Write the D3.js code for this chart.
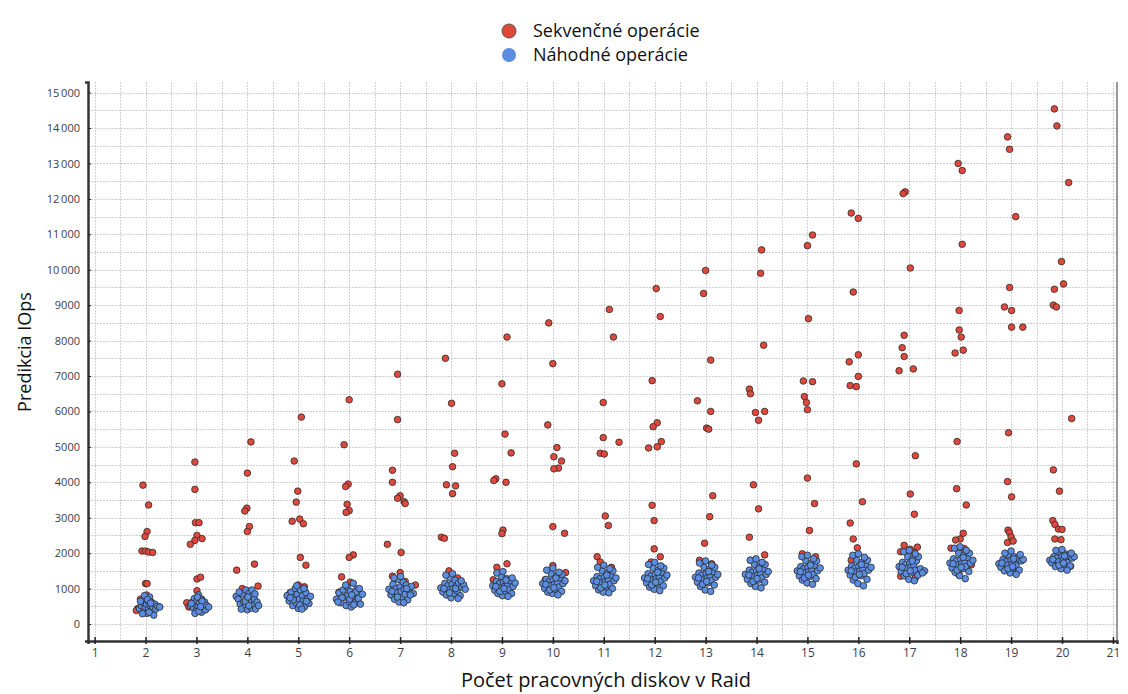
<!DOCTYPE html>
<html>
<head>
<meta charset="utf-8">
<script src="https://cdn.jsdelivr.net/npm/d3@7"></script>
<style>
  body { margin: 0; background: #fff; }
  svg { display: block; font-family: "Open Sans", "Noto Sans", sans-serif; }
</style>
</head>
<body>
<div id="chart"></div>
<script>
// series names (legend order)
const seriesNames = ["Sekvenčné operácie", "Náhodné operácie"];

// x ticks and y ticks
const xTicks = d3.range(1, 22);
const yTicks = d3.range(0, 15001, 1000);

// Sekvenčné operácie: [disks (with jitter), IOps]
const sequential = [
  [1.95,3920],[2.06,3360],[2.03,2610],[1.99,2470],[1.93,2060],[2.0,2060],[2.06,2030],[2.14,2020],[2.0,1140],[2.03,1140],[2.02,820],[1.85,440],[1.82,380],[1.9,700],[2.1,600],
  [2.97,4570],[2.97,3800],[2.98,2860],[3.05,2860],[3.01,2500],[2.97,2360],[3.11,2410],[2.88,2250],[3.01,1270],[3.08,1320],[3.01,940],[2.81,600],[2.85,480],[3.1,700],
  [4.07,5140],[4.0,4260],[3.99,3270],[3.95,3190],[4.04,2750],[4.0,2610],[4.14,1690],[3.79,1520],[4.21,1070],[3.82,780],[4.05,900],[4.15,650],[3.9,1000],
  [5.06,5840],[4.92,4600],[4.99,3750],[4.96,3440],[4.88,2900],[5.03,2960],[5.1,2830],[5.04,1880],[5.15,1660],[5.0,1100],[4.84,880],[4.9,750],[5.12,1050],
  [6.0,6330],[5.9,5060],[5.98,3950],[5.93,3880],[5.96,3380],[6.0,3200],[5.94,3150],[6.08,1950],[6.0,1880],[5.85,1330],[6.02,1180],[5.8,900],[6.1,700],
  [6.95,7050],[6.95,5770],[6.85,4340],[6.85,4000],[7.0,3620],[6.95,3550],[7.08,3450],[7.1,3400],[6.75,2250],[7.02,2020],[7.0,1450],[6.85,1350],[7.1,1200],[7.3,1100],
  [7.89,7500],[8.01,6230],[8.07,4820],[8.03,4440],[7.91,3930],[8.09,3900],[8.03,3680],[7.81,2450],[7.87,2420],[7.96,1500],[8.13,1300],[7.9,1100],[8.05,850],
  [9.1,8100],[9.0,6780],[9.06,5360],[9.18,4830],[8.88,4100],[8.84,4050],[9.08,4000],[9.02,2650],[9.0,2550],[9.1,1700],[8.9,1600],[8.83,1250],[9.15,1000],
  [9.92,8500],[10.0,7350],[9.9,5620],[10.08,4980],[10.02,4720],[10.17,4600],[10.11,4400],[10.02,4380],[10.0,2750],[10.23,2560],[10.0,1650],[10.25,1450],[9.85,1250],
  [11.11,8880],[11.19,8100],[10.99,6250],[10.99,5260],[11.3,5130],[10.93,4820],[11.01,4800],[11.03,3050],[11.09,2780],[10.87,1900],[10.93,1750],[11.15,1600],[11.05,1350],
  [12.03,9470],[12.11,8680],[11.95,6870],[12.05,5680],[11.97,5570],[12.13,5150],[12.05,5000],[11.88,4970],[11.95,3350],[11.99,2920],[11.99,2120],[12.11,1900],[11.93,1750],
  [13.0,9980],[12.96,9330],[13.1,7450],[12.84,6300],[13.1,6000],[13.02,5530],[13.06,5500],[13.14,3620],[13.08,3030],[12.98,2280],[12.88,1800],[13.12,1700],
  [14.1,10560],[14.08,9900],[14.14,7870],[13.86,6630],[13.88,6500],[14.16,6000],[13.98,5970],[14.04,5750],[13.94,3930],[14.04,3250],[13.86,2450],[14.16,1950],[13.88,1800],
  [15.1,10980],[15.0,10680],[15.02,8620],[14.92,6860],[15.1,6840],[14.94,6420],[14.98,6250],[15.0,6050],[15.0,4120],[15.14,3400],[15.04,2640],[14.9,1980],[15.16,1900],
  [15.86,11600],[16.0,11450],[15.9,9370],[16.0,7600],[15.82,7400],[16.0,6990],[15.84,6730],[15.96,6700],[15.96,4520],[16.08,3450],[15.84,2850],[15.9,2400],[15.98,2150],[15.86,1800],
  [16.92,12200],[16.88,12150],[17.02,10050],[16.9,8150],[16.86,7800],[16.9,7550],[17.08,7200],[16.8,7150],[17.12,4750],[17.02,3670],[17.1,3100],[16.9,2220],[17.16,2170],[16.83,2040],[17.02,2110],[17.1,2010],[16.83,1350],[17.12,1300],
  [17.96,13000],[18.04,12800],[18.04,10720],[17.98,8850],[17.98,8300],[18.02,8100],[18.06,7730],[17.9,7650],[17.94,5150],[17.93,3820],[18.12,3360],[18.06,2560],[18.0,2400],[17.91,2370],[17.82,2140],[18.08,2130],[18.22,1670],[17.97,1400],
  [18.93,13750],[18.97,13400],[19.09,11500],[18.97,9500],[18.87,8950],[19.01,8850],[19.01,8380],[19.23,8380],[18.95,5400],[18.93,4020],[19.01,3590],[18.94,2650],[18.97,2580],[19.0,2460],[18.93,2300],[19.04,2340],[18.81,1600],[19.04,1550],
  [19.85,14540],[19.9,14060],[20.13,12460],[19.99,10230],[20.03,9600],[19.85,9450],[19.83,9000],[19.89,8950],[20.19,5800],[19.83,4350],[19.95,3750],[19.82,2920],[19.86,2810],[19.93,2680],[20.0,2670],[19.86,2400],[19.98,2380],[20.17,1630]
];

// Náhodné operácie: [disks (with jitter), IOps]
const random = [
  [1.88,430],[1.92,520],[1.95,610],[1.97,380],[1.99,700],[2.0,470],[2.02,560],[2.03,300],[2.05,650],[2.06,420],[2.08,760],[2.09,520],[2.11,350],[2.12,610],[2.14,480],[2.16,250],[2.18,560],[2.2,420],[2.24,500],[2.28,480],[1.94,290],[1.98,800],[2.04,690],[2.1,590],[1.9,640],[2.07,330],
  [2.88,520],[2.92,620],[2.94,450],[2.96,720],[2.98,560],[3.0,380],[3.01,660],[3.03,500],[3.04,820],[3.06,600],[3.07,420],[3.09,700],[3.1,330],[3.12,540],[3.14,470],[3.16,620],[3.18,400],[3.2,520],[3.24,480],[2.97,300],[3.02,760],[3.05,360],[3.11,640],[2.9,580],[3.08,490],
  [3.78,780],[3.82,700],[3.86,560],[3.9,850],[3.93,620],[3.95,480],[3.97,960],[3.99,720],[4.0,400],[4.02,580],[4.04,880],[4.06,660],[4.08,450],[4.1,780],[4.12,540],[4.14,700],[4.16,420],[4.19,620],[4.22,520],[3.88,420],[3.96,640],[4.03,520],[4.09,960],[3.84,900],[4.15,850],[4.01,760],
  [4.78,800],[4.82,650],[4.86,900],[4.89,520],[4.92,760],[4.94,1000],[4.96,600],[4.98,840],[5.0,440],[5.02,700],[5.04,960],[5.06,560],[5.08,800],[5.1,650],[5.12,480],[5.15,880],[5.18,720],[5.21,580],[5.24,780],[4.9,680],[4.97,1080],[5.03,540],[5.11,1000],[4.84,740],[5.07,420],[5.16,640],
  [5.75,700],[5.8,880],[5.84,600],[5.88,960],[5.91,760],[5.94,520],[5.96,1050],[5.98,820],[6.0,640],[6.02,920],[6.04,480],[6.06,760],[6.08,1150],[6.1,860],[6.12,600],[6.15,980],[6.18,720],[6.22,560],[6.26,840],[5.86,740],[5.93,1100],[6.01,700],[6.09,540],[6.13,900],[5.78,620],[6.2,1000],[6.05,820],
  [6.78,980],[6.82,820],[6.86,1120],[6.89,700],[6.92,1000],[6.94,880],[6.96,1260],[6.98,620],[7.0,1050],[7.02,920],[7.04,760],[7.06,1180],[7.08,980],[7.1,840],[7.12,1100],[7.15,680],[7.18,940],[7.22,1060],[7.26,860],[6.88,1300],[6.95,760],[7.01,1340],[7.07,600],[7.13,1000],[6.84,920],[7.2,820],
  [7.8,1020],[7.84,900],[7.88,1150],[7.91,820],[7.94,1080],[7.96,960],[7.98,1300],[8.0,740],[8.02,1120],[8.04,1000],[8.06,860],[8.08,1240],[8.1,1060],[8.12,940],[8.15,1160],[8.18,800],[8.21,1040],[8.25,1100],[8.28,980],[7.9,1380],[7.97,880],[8.03,1420],[8.09,1000],[8.14,720],[7.86,1000],[8.2,1220],
  [8.82,1080],[8.86,950],[8.89,1200],[8.92,860],[8.95,1140],[8.97,1020],[8.99,1340],[9.01,800],[9.03,1180],[9.05,1060],[9.07,920],[9.09,1280],[9.11,1100],[9.13,980],[9.16,1220],[9.19,860],[9.22,1060],[9.26,1160],[8.9,1440],[8.96,920],[9.02,1480],[9.08,1240],[9.12,780],[8.88,1060],[9.2,1300],[9.04,1000],
  [9.8,1140],[9.84,1000],[9.87,1260],[9.9,900],[9.93,1200],[9.95,1080],[9.97,1420],[9.99,860],[10.01,1240],[10.03,1120],[10.05,980],[10.07,1360],[10.09,1160],[10.11,1040],[10.14,1300],[10.17,920],[10.2,1140],[10.24,1220],[9.88,1520],[9.94,960],[10.0,1580],[10.06,1300],[10.1,820],[9.86,1120],[10.18,1400],[10.02,1020],[10.12,1460],
  [10.8,1220],[10.84,1080],[10.87,1340],[10.9,960],[10.93,1280],[10.95,1160],[10.97,1500],[10.99,900],[11.01,1320],[11.03,1200],[11.05,1060],[11.07,1440],[11.09,1240],[11.11,1120],[11.14,1380],[11.17,1000],[11.2,1220],[11.24,1300],[10.88,1600],[10.94,1020],[11.0,1660],[11.06,1380],[11.1,880],[10.86,1200],[11.18,1500],[11.02,1100],[11.12,1560],
  [11.8,1300],[11.84,1160],[11.87,1420],[11.9,1040],[11.93,1360],[11.95,1240],[11.97,1580],[11.99,980],[12.01,1400],[12.03,1280],[12.05,1140],[12.07,1520],[12.09,1320],[12.11,1200],[12.14,1460],[12.17,1080],[12.2,1300],[12.24,1380],[11.88,1680],[11.94,1100],[12.0,1740],[12.06,1460],[12.1,940],[11.86,1280],[12.18,1580],[12.02,1180],[12.12,1640],
  [12.8,1320],[12.84,1180],[12.87,1440],[12.9,1060],[12.93,1380],[12.95,1260],[12.97,1600],[12.99,960],[13.01,1420],[13.03,1300],[13.05,1160],[13.07,1540],[13.09,1340],[13.11,1220],[13.14,1480],[13.17,1100],[13.2,1320],[13.24,1400],[12.88,1720],[12.94,1120],[13.0,1780],[13.06,1480],[13.1,920],[12.86,1300],[13.18,1600],[13.02,1200],[13.12,1660],
  [13.78,1400],[13.82,1260],[13.86,1520],[13.89,1140],[13.92,1460],[13.94,1340],[13.96,1680],[13.98,1060],[14.0,1500],[14.02,1380],[14.04,1240],[14.06,1620],[14.08,1420],[14.1,1300],[14.13,1560],[14.16,1180],[14.19,1400],[14.23,1480],[13.88,1800],[13.93,1200],[13.99,1840],[14.05,1560],[14.09,1020],[13.85,1380],[14.17,1680],[14.01,1280],[14.11,1740],
  [14.8,1500],[14.84,1360],[14.87,1620],[14.9,1240],[14.93,1560],[14.95,1440],[14.97,1780],[14.99,1160],[15.01,1600],[15.03,1480],[15.05,1340],[15.07,1720],[15.09,1520],[15.11,1400],[15.14,1660],[15.17,1280],[15.2,1500],[15.25,1580],[14.89,1900],[14.94,1300],[15.0,1940],[15.06,1660],[15.1,1120],[14.86,1480],[15.18,1780],[15.02,1380],[15.12,1840],
  [15.8,1520],[15.84,1380],[15.87,1640],[15.9,1240],[15.93,1580],[15.95,1460],[15.97,1800],[15.99,1140],[16.01,1620],[16.03,1500],[16.05,1360],[16.07,1740],[16.09,1540],[16.11,1420],[16.14,1680],[16.17,1260],[16.2,1520],[16.25,1600],[15.89,1940],[15.94,1320],[16.0,1980],[16.06,1680],[16.1,1080],[15.86,1500],[16.18,1800],[16.02,1400],[16.12,1880],
  [16.8,1620],[16.84,1480],[16.87,1740],[16.9,1360],[16.93,1680],[16.95,1560],[16.97,1900],[16.99,1260],[17.01,1720],[17.03,1600],[17.05,1460],[17.07,1840],[17.09,1640],[17.11,1520],[17.14,1780],[17.17,1380],[17.22,1560],[17.3,1500],[16.89,2040],[16.94,1420],[17.0,2080],[17.06,1780],[17.1,1220],[16.86,1600],[17.18,1900],[17.02,1500],[17.12,1980],[17.26,1440],
  [17.8,1720],[17.84,1580],[17.87,1840],[17.9,1460],[17.93,1780],[17.95,1660],[17.97,2000],[17.99,1360],[18.01,1820],[18.03,1700],[18.05,1560],[18.07,1940],[18.09,1740],[18.11,1620],[18.14,1880],[18.17,1480],[18.2,1720],[18.25,1800],[17.89,2140],[17.94,1520],[18.0,2180],[18.06,1880],[18.1,1280],[17.86,1700],[18.18,2000],[18.02,1600],[18.12,2080],
  [18.76,1700],[18.8,1600],[18.84,1820],[18.87,1500],[18.9,1760],[18.93,1660],[18.96,1940],[18.98,1440],[19.0,1800],[19.02,1700],[19.04,1580],[19.06,1900],[19.08,1740],[19.1,1640],[19.13,1860],[19.16,1520],[19.2,1780],[19.24,1820],[18.88,2000],[18.94,1560],[19.0,2060],[19.05,1840],[19.1,1400],[18.82,1720],[19.18,1960],[19.03,1620],
  [19.76,1800],[19.8,1720],[19.84,1900],[19.87,1620],[19.9,1860],[19.93,1760],[19.96,2040],[19.98,1560],[20.0,1900],[20.02,1800],[20.04,1680],[20.06,1980],[20.08,1840],[20.1,1740],[20.13,1940],[20.16,1640],[20.2,1860],[20.24,1900],[19.88,2080],[19.94,1660],[20.0,2100],[20.05,1920],[20.1,1520],[19.82,1820],[20.18,2000],[20.03,1720]
];

const colors = ["#e0483b", "#5b8de0"];

const width = 1128, height = 694;
const svg = d3.select("#chart").append("svg")
    .attr("width", width).attr("height", height)
    .attr("viewBox", [0, 0, width, height]);

// plot box: left axis at 88, right border at 1117, top 82, bottom axis at 641
const x = d3.scaleLinear().domain([0.87, 21.08]).range([88, 1117]);
const y = d3.scaleLinear().domain([-480, 15300]).range([641, 82]);

// dashed grid every 0.5 disk and every 500 IOps
const grid = svg.append("g").attr("stroke", "#d0d0d0").attr("stroke-dasharray", "2,1").attr("stroke-width", 1);
grid.selectAll(".gx").data(d3.range(1, 21.01, 0.5)).join("line")
    .attr("x1", d => Math.round(x(d)) + 0.5).attr("x2", d => Math.round(x(d)) + 0.5)
    .attr("y1", y.range()[1]).attr("y2", y.range()[0]);
grid.selectAll(".gy").data(d3.range(0, 15001, 500)).join("line")
    .attr("y1", d => Math.round(y(d)) + 0.5).attr("y2", d => Math.round(y(d)) + 0.5)
    .attr("x1", x.range()[0]).attr("x2", x.range()[1]);

// right border
svg.append("line")
    .attr("x1", x.range()[1]).attr("x2", x.range()[1])
    .attr("y1", y.range()[1]).attr("y2", y.range()[0])
    .attr("stroke", "#999").attr("stroke-width", 2);

// points
const drawPoints = (data, color) => svg.append("g")
    .selectAll("circle").data(data).join("circle")
    .attr("cx", d => x(d[0]))
    .attr("cy", d => y(d[1]))
    .attr("r", 3.3)
    .attr("fill", color)
    .attr("stroke", "#2a2a2a")
    .attr("stroke-width", 0.8);
drawPoints(sequential, colors[0]);
drawPoints(random, colors[1]);

// axes
const fmt = d => d >= 10000 ? d3.format(",")(d).replace(",", "\u2009") : d;
const yAxis = svg.append("g")
    .attr("transform", `translate(${x.range()[0]},0)`)
    .call(d3.axisLeft(y).tickValues(yTicks).tickFormat(fmt).tickSize(3).tickPadding(5));
yAxis.selectAll(".tick line").attr("x2", 3).attr("stroke", "#222");
yAxis.select(".domain").attr("stroke", "#333").attr("stroke-width", 2.5);
yAxis.selectAll("text").attr("font-size", 11).attr("fill", "#3c3c4a")
    .attr("font-family", "\"Open Sans\", sans-serif");

const xAxis = svg.append("g")
    .attr("transform", `translate(0,${y.range()[0]})`)
    .call(d3.axisBottom(x).tickValues(xTicks).tickFormat(d3.format("d")).tickSize(3).tickPadding(4));
xAxis.selectAll(".tick line").attr("y1", -4).attr("y2", 3).attr("stroke", "#222").attr("stroke-width", 1.5);
xAxis.select(".domain").attr("stroke", "#333").attr("stroke-width", 2.5);
xAxis.selectAll("text").attr("font-size", 12).attr("fill", "#3c3c4a")
    .attr("font-family", "\"Open Sans\", sans-serif");

// axis titles
svg.append("text")
    .attr("x", 606).attr("y", 687)
    .attr("text-anchor", "middle")
    .attr("font-size", 20).attr("fill", "#111")
    .text("Počet pracovných diskov v Raid");
svg.append("text")
    .attr("transform", "translate(31,352) rotate(-90)")
    .attr("text-anchor", "middle")
    .attr("font-size", 18).attr("fill", "#111")
    .text("Predikcia IOps");

// legend
const legend = svg.append("g").selectAll("g").data(seriesNames).join("g")
    .attr("transform", (d, i) => `translate(509,${31 + i * 24})`);
legend.append("circle")
    .attr("r", 7)
    .attr("fill", (d, i) => colors[i])
    .attr("stroke", (d, i) => i === 0 ? "#555" : "none")
    .attr("stroke-width", 1);
legend.append("text")
    .attr("x", 24).attr("dy", "0.35em")
    .attr("font-size", 18).attr("fill", "#111")
    .text(d => d);
</script>
</body>
</html>
